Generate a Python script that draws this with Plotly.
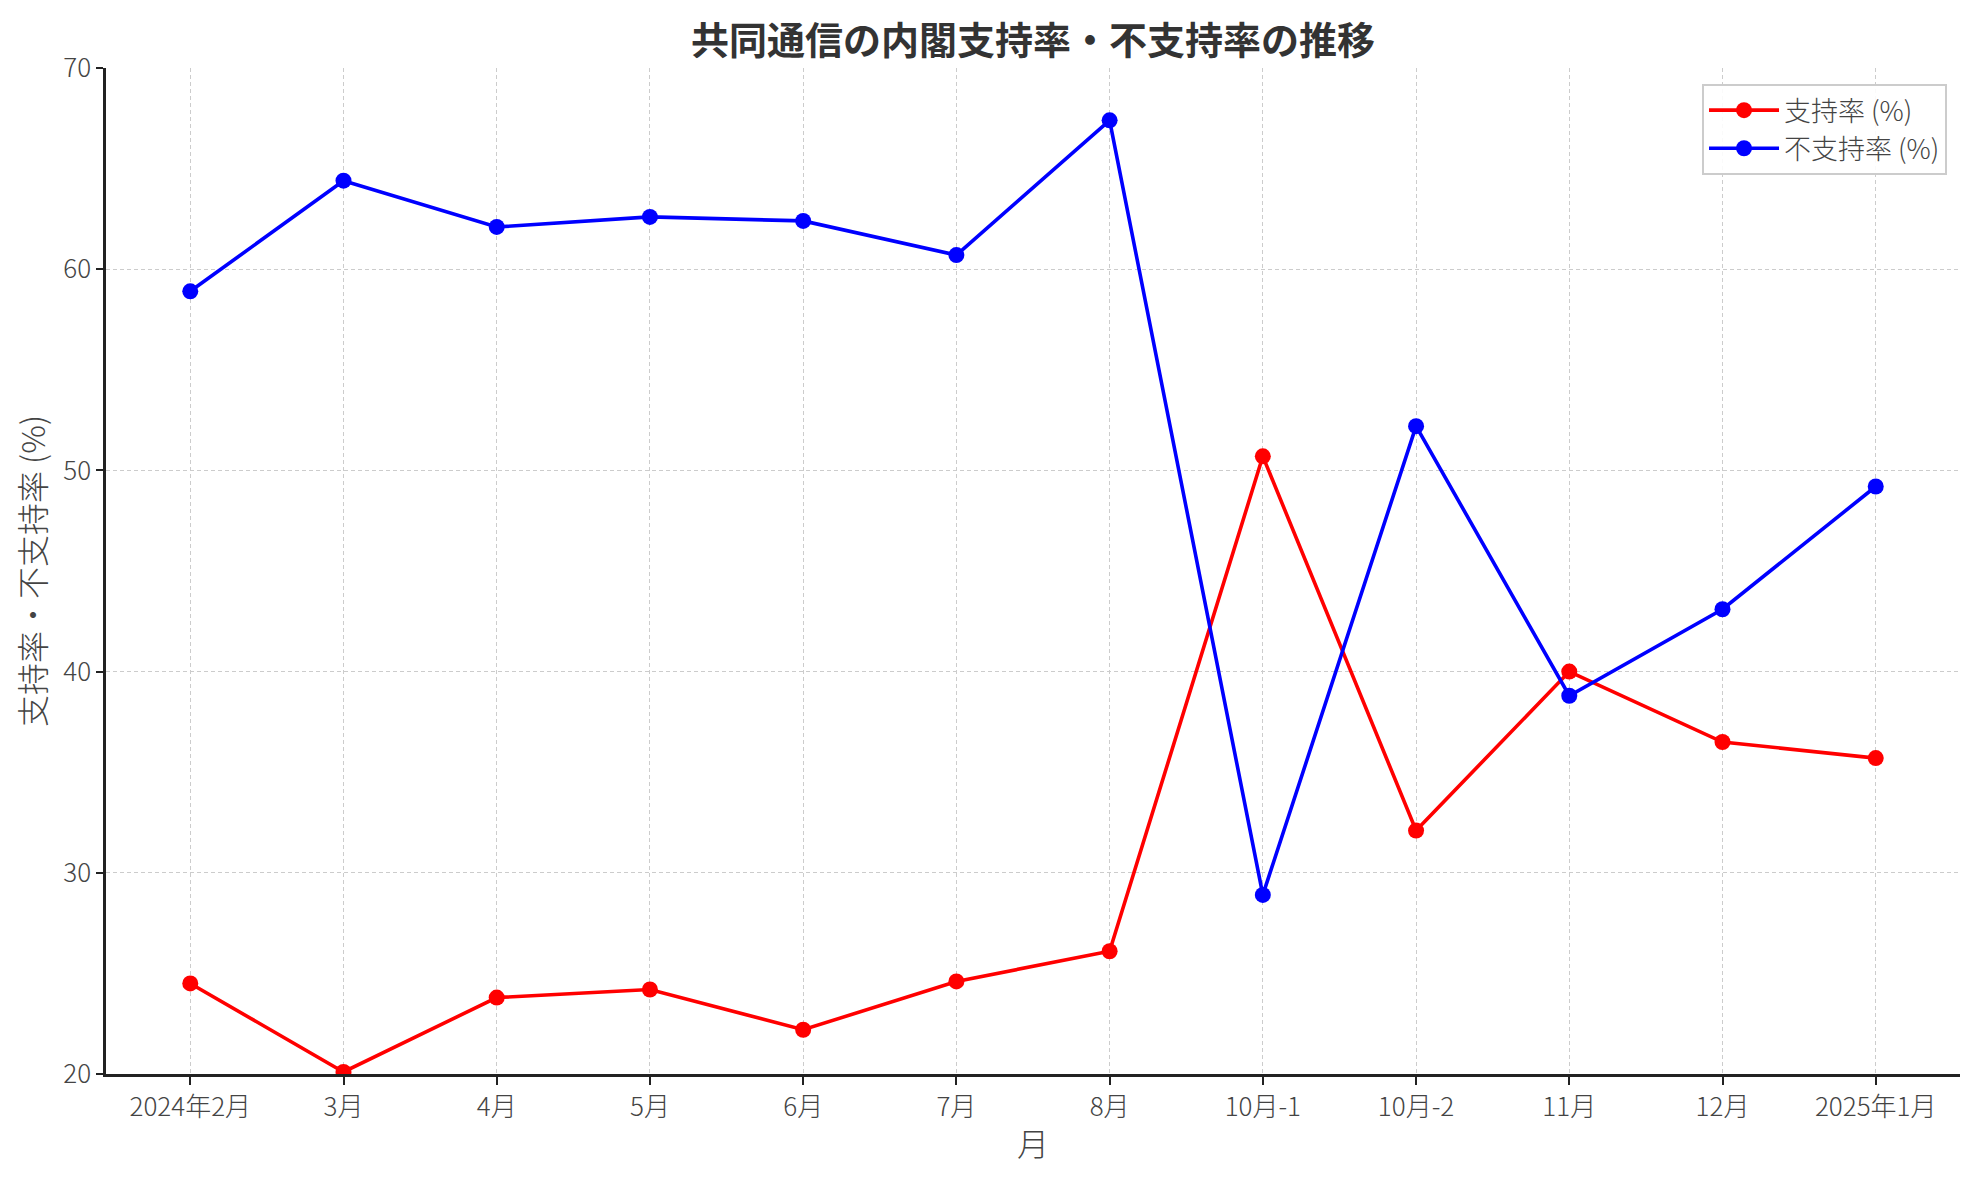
import plotly.graph_objects as go

months = ["2024年2月", "3月", "4月", "5月", "6月", "7月", "8月",
          "10月-1", "10月-2", "11月", "12月", "2025年1月"]
support = [24.5, 20.1, 23.8, 24.2, 22.2, 24.6, 26.1, 50.7, 32.1, 40.0, 36.5, 35.7]
nonsupport = [58.9, 64.4, 62.1, 62.6, 62.4, 60.7, 67.4, 28.9, 52.2, 38.8, 43.1, 49.2]
y_ticks = [20, 30, 40, 50, 60, 70]

FONT = "Noto Sans CJK JP"

fig = go.Figure()
fig.add_trace(go.Scatter(x=months, y=support, name="支持率 (%)", mode="lines+markers",
                         line=dict(color="#ff0000", width=3.6),
                         marker=dict(color="#ff0000", size=16)))
fig.add_trace(go.Scatter(x=months, y=nonsupport, name="不支持率 (%)", mode="lines+markers",
                         line=dict(color="#0000ff", width=3.6),
                         marker=dict(color="#0000ff", size=16)))

grid = dict(showgrid=True, gridcolor="#cccccc", griddash="4px,3px", gridwidth=1.3)

fig.update_layout(
    width=1979, height=1180,
    margin=dict(l=98, r=27, t=60, b=114),
    paper_bgcolor="white", plot_bgcolor="white",
    font=dict(family=FONT, color="#444444", size=24),
    title=dict(text="<b>共同通信の内閣支持率・不支持率の推移</b>", x=0.5, xref="paper",
               xanchor="center", y=0.972, yanchor="middle",
               font=dict(family=FONT, size=38, color="#333333")),
    xaxis=dict(type="category", range=[-0.55, 11.55], **grid,
               showline=True, linecolor="#222222", linewidth=2.5, mirror=False,
               ticks="outside", ticklen=8, tickwidth=2, tickcolor="#222222",
               tickfont=dict(family=FONT, size=26, color="#444444", weight=300),
               title=dict(text="月", font=dict(family=FONT, size=32, color="#444444", weight=300),
                          standoff=12)),
    yaxis=dict(range=[20, 70], tickvals=y_ticks, **grid, zeroline=False,
               showline=True, linecolor="#222222", linewidth=2.5,
               ticks="outside", ticklen=7, tickwidth=2, tickcolor="#222222",
               tickfont=dict(family=FONT, size=26, color="#444444", weight=300),
               title=dict(text="支持率・不支持率 (%)",
                          font=dict(family=FONT, size=32, color="#444444", weight=300),
                          standoff=10)),
    legend=dict(x=0.993, y=0.984, xanchor="right", yanchor="top",
                bgcolor="rgba(255,255,255,0.9)", bordercolor="#cccccc", borderwidth=2,
                font=dict(family=FONT, size=27, color="#444444", weight=300),
                itemwidth=70, tracegroupgap=12, itemsizing="trace"),
    showlegend=True,
)

fig.write_html("out.html")
